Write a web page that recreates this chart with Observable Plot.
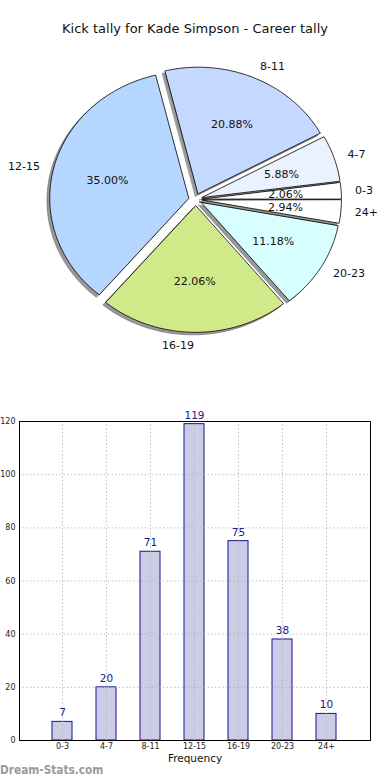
<!DOCTYPE html>
<html><head><meta charset="utf-8">
<script src="https://cdn.jsdelivr.net/npm/d3@7"></script>
<script src="https://cdn.jsdelivr.net/npm/@observablehq/plot@0.6"></script>
<style>
body{margin:0;background:#fff;font-family:"DejaVu Sans",sans-serif;}
#wrap{position:relative;width:390px;height:780px;overflow:hidden;background:#fff;}
#title{position:absolute;top:21px;left:0;width:390px;text-align:center;font-size:13px;color:#111;}
#pie{position:absolute;top:60px;left:0;}
#bar{position:absolute;top:380px;left:0;}
#wm{position:absolute;left:0;top:763px;font-size:12px;color:#9a9a9a;font-weight:600;transform:scaleX(0.88);transform-origin:left center;white-space:nowrap;}
</style></head><body>
<div id="wrap">
<div id="title">Kick tally for Kade Simpson - Career tally</div>
<div id="pie"></div>
<div id="bar"></div>
<div id="wm">Dream-Stats.com</div>
</div>
<script>
const categories = ["0-3","4-7","8-11","12-15","16-19","20-23","24+"];
const counts = [7,20,71,119,75,38,10];
const sliceColors = ["#ffffff","#eaf1ff","#c5d8ff","#b5d6ff","#d0ea8a","#d8ffff","#ffffff"];
const yTicks = [0,20,40,60,80,100,120];

// ---- pie geometry from the data ----
const total = d3.sum(counts);
const explode = 0.05, shadowOff = -0.02;
const slicePts = [], shadowPts = [], labelsL = [], labelsR = [], pcts = [];
let acc = 0;
categories.forEach((cat, i) => {
  const frac = counts[i] / total;
  const t1 = acc * 2 * Math.PI, t2 = (acc + frac) * 2 * Math.PI;
  acc += frac;
  const mid = (t1 + t2) / 2;
  const ex = explode * Math.cos(mid), ey = explode * Math.sin(mid);
  const n = Math.max(4, Math.ceil((t2 - t1) / (Math.PI / 180)));
  const pts = [[ex, ey]];
  for (let k = 0; k <= n; k++) {
    const t = t1 + (t2 - t1) * k / n;
    pts.push([ex + Math.cos(t), ey + Math.sin(t)]);
  }
  pts.forEach(([x, y]) => {
    slicePts.push({cat, x, y, color: sliceColors[i]});
    shadowPts.push({cat, x: x + shadowOff, y: y + shadowOff});
  });
  const lab = {text: cat, x: ex + 1.1 * Math.cos(mid), y: ey + 1.1 * Math.sin(mid)};
  (Math.cos(mid) >= 0 ? labelsR : labelsL).push(lab);
  pcts.push({text: (frac * 100).toFixed(2) + "%", x: ex + 0.6 * Math.cos(mid), y: ey + 0.6 * Math.sin(mid)});
});

const pie = Plot.plot({
  width: 390, height: 320,
  marginLeft: 56, marginRight: 56, marginTop: 12.5, marginBottom: 54.5,
  x: {domain: [-1, 1], axis: null},
  y: {domain: [-1, 1], axis: null},
  color: {type: "identity"},
  style: {fontFamily: "DejaVu Sans", background: "transparent"},
  marks: [
    Plot.line(shadowPts, {x: "x", y: "y", z: "cat", fill: "#808080", fillOpacity: 0.8, stroke: "#555", strokeWidth: 0.5, curve: "linear-closed"}),
    Plot.line(slicePts, {x: "x", y: "y", z: "cat", fill: "color", stroke: "#000", strokeWidth: 0.8, curve: "linear-closed"}),
    Plot.text(labelsR, {x: "x", y: "y", text: "text", textAnchor: "start", fontSize: 11, fill: "#111"}),
    Plot.text(labelsL, {x: "x", y: "y", text: "text", textAnchor: "end", fontSize: 11, fill: "#111"}),
    Plot.text(pcts, {x: "x", y: "y", text: "text", fontSize: 11, fill: "#111"})
  ]
});
document.getElementById("pie").append(pie);

// ---- bar chart ----
const barData = categories.map((cat, i) => ({cat, count: counts[i]}));
const bar = Plot.plot({
  width: 390, height: 390,
  marginTop: 41, marginBottom: 30, marginLeft: 19, marginRight: 20,
  x: {domain: categories, paddingInner: 0.545, paddingOuter: 0.76, label: null, tickSize: 0, tickPadding: 3},
  y: {domain: [0, 120], ticks: yTicks, label: null, tickSize: 0, tickPadding: 4},
  style: {fontFamily: "DejaVu Sans", fontSize: "8px", color: "#222", background: "transparent"},
  marks: [
    Plot.barY(barData, {x: "cat", y: "count", fill: "#ccccE6", stroke: "#14148c", strokeWidth: 1}),
    Plot.ruleY(yTicks, {y: d => d, stroke: "#b4b4b4", strokeDasharray: "1.2,2.5"}),
    Plot.ruleX(categories, {x: d => d, stroke: "#b4b4b4", strokeDasharray: "1.2,2.5"}),
    Plot.frame({stroke: "#000", strokeWidth: 1}),
    Plot.text(barData, {x: "cat", y: "count", text: d => String(d.count), dy: -9, fontSize: 10.5, fill: "#1a1a8c"}),
    Plot.text(["Frequency"], {text: d => d, frameAnchor: "bottom", dy: 21, fontSize: 10.5, fill: "#111"})
  ]
});
document.getElementById("bar").append(bar);
</script>
</body></html>
